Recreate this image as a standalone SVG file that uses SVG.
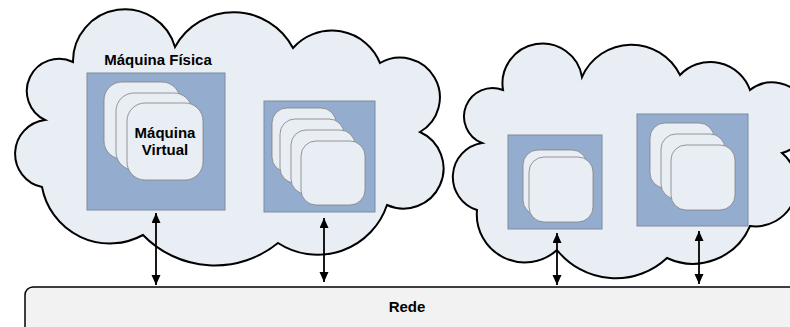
<svg xmlns="http://www.w3.org/2000/svg" width="790" height="327" viewBox="0 0 790 327">
<style>
.cloud{fill:#E9EEF5;stroke:#000;stroke-width:2;stroke-linejoin:miter}
.host{fill:#94ADCE;stroke:#7C8BA0;stroke-width:1}
.vm{fill:#E9EEF5;stroke:#7F7F7F;stroke-width:0.8}
.lbl{font-family:"Liberation Sans",Arial,sans-serif;font-weight:bold;font-size:15px;fill:#000;text-anchor:middle}
.conn{stroke:#000;stroke-width:1.8;fill:none;marker-start:url(#ah);marker-end:url(#ah)}
</style>
<defs>
<marker id="ah" markerUnits="userSpaceOnUse" markerWidth="11" markerHeight="10" refX="10" refY="4.5" orient="auto-start-reverse">
<path d="M0,0 L10,4.5 L0,9 Z" fill="#000"/>
</marker>
</defs>
<rect width="790" height="327" fill="#fff"/>

<g id="cloud-left">
<path class="cloud" d="M45,120 A32 32 0 0 1 73,62 A52 52 0 0 1 175,47 A67 67 0 0 1 293,48 A52 52 0 0 1 380,63 A39 39 0 0 1 420,132 A40 40 0 0 1 387,205 A73 73 0 0 1 278,243 A100 100 0 0 1 143,235 A69 69 0 0 1 42,187 A34 34 0 0 1 45,120 Z"/>
</g>
<g id="cloud-right">
<path class="cloud" d="M477,210 A34.5 34.5 0 0 1 482,143 A28 28 0 0 1 503,90 A40 40 0 0 1 582,77 A54 54 0 0 1 680,75 A42 42 0 0 1 750,90 A36 36 0 1 1 782,153 A41.5 41.5 0 0 1 750,226 A62 62 0 0 1 667,258 A75 75 0 0 1 557,250 A48 48 0 0 1 477,210 Z"/>
</g>

<g id="host1">
<text class="lbl" x="158" y="65">Máquina Física</text>
<rect class="host" x="87" y="73" width="138" height="137"/>
<rect class="vm" x="104" y="82" width="76" height="77" rx="18"/>
<rect class="vm" x="116" y="93" width="76" height="77" rx="18"/>
<rect class="vm" x="127" y="103" width="76" height="77" rx="18"/>
<text class="lbl" x="165" y="138">Máquina</text>
<text class="lbl" x="165" y="155">Virtual</text>
</g>

<g id="host2">
<rect class="host" x="264" y="101" width="111" height="111"/>
<rect class="vm" x="272" y="108" width="64" height="64" rx="15"/>
<rect class="vm" x="280" y="119" width="64" height="64" rx="15"/>
<rect class="vm" x="291" y="130" width="64" height="64" rx="15"/>
<rect class="vm" x="301" y="141" width="64" height="64" rx="15"/>
</g>

<g id="host3">
<rect class="host" x="508" y="135" width="94" height="94"/>
<rect class="vm" x="523" y="150" width="64" height="65" rx="15"/>
<rect class="vm" x="529" y="157" width="64" height="65" rx="15"/>
</g>

<g id="host4">
<rect class="host" x="637" y="114" width="111" height="112"/>
<rect class="vm" x="650" y="123" width="64" height="65" rx="15"/>
<rect class="vm" x="661" y="134" width="64" height="65" rx="15"/>
<rect class="vm" x="671" y="145" width="64" height="65" rx="15"/>
</g>

<g id="rede">
<rect x="25" y="287" width="800" height="70" rx="8" fill="#F2F2F2" stroke="#000" stroke-width="1.5"/>
<text class="lbl" x="407" y="312">Rede</text>
</g>

<g id="connectors">
<line class="conn" x1="156" y1="213" x2="156" y2="285"/>
<line class="conn" x1="324" y1="218" x2="324" y2="282"/>
<line class="conn" x1="557" y1="233" x2="557" y2="285"/>
<line class="conn" x1="699" y1="231" x2="699" y2="284"/>
</g>
</svg>
